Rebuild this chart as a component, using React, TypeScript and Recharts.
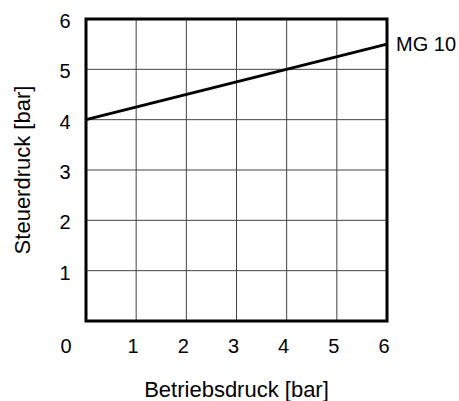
import React from 'react';
import { LineChart, Line, XAxis, YAxis, CartesianGrid, ReferenceArea } from 'recharts';

// Betriebsdruck [bar] -> Steuerdruck [bar]
const betriebsdruck = [0, 6];
const steuerdruck = [4, 5.5];
const seriesName = 'MG 10';
const xTicks = [0, 1, 2, 3, 4, 5, 6];
const yTicks = [1, 2, 3, 4, 5, 6];

const data = betriebsdruck.map((x, i) => ({ x, y: steuerdruck[i] }));

const FONT = '"Liberation Sans", Arial, Helvetica, sans-serif';

const XTick = (props: any) => {
    const { x, y, payload } = props;
    const shift = payload.value === 0 ? -20 : -3;
    return (
        <text x={x + shift} y={y + 17} textAnchor="middle" dominantBaseline="central" fontSize={20} fontFamily={FONT} fill="#000">
            {payload.value}
        </text>
    );
};

const YTick = (props: any) => {
    const { y, payload } = props;
    return (
        <text x={65} y={y + 2} textAnchor="middle" dominantBaseline="central" fontSize={20} fontFamily={FONT} fill="#000">
            {payload.value}
        </text>
    );
};

const YLabel = (props: any) => {
    const { viewBox } = props;
    const cx = viewBox.x + 22;
    const cy = viewBox.y + viewBox.height / 2;
    return (
        <text x={cx} y={cy} transform={`rotate(-90 ${cx} ${cy})`} textAnchor="middle" dominantBaseline="central" fontSize={22} fontFamily={FONT} fill="#000">
            Steuerdruck [bar]
        </text>
    );
};

const EndLabel = (props: any) => {
    const { x, y, index } = props;
    if (index !== data.length - 1) return null;
    return (
        <text x={x + 9} y={y} dominantBaseline="central" fontSize={20} fontFamily={FONT} fill="#000">
            {seriesName}
        </text>
    );
};

const App = () => {
    return (
        <div style={{ position: 'fixed', left: 0, top: 0, width: 459, height: 401, background: '#fff' }}>
            <LineChart width={459} height={401} data={data} margin={{ top: 19, right: 72, left: 0, bottom: 0 }}>
                <CartesianGrid stroke="#444" strokeWidth={1} />
                <XAxis
                    dataKey="x"
                    type="number"
                    domain={[0, 6]}
                    ticks={xTicks}
                    axisLine={false}
                    tickLine={false}
                    height={80}
                    tick={<XTick />}
                    label={{ value: 'Betriebsdruck [bar]', position: 'insideBottom', offset: 4, fontSize: 22, fontFamily: FONT, fill: '#000' }}
                />
                <YAxis
                    type="number"
                    domain={[0, 6]}
                    ticks={yTicks}
                    axisLine={false}
                    tickLine={false}
                    width={86}
                    tick={<YTick />}
                    label={<YLabel />}
                />
                <ReferenceArea x1={0} x2={6} y1={0} y2={6} fill="none" fillOpacity={0} stroke="#000" strokeWidth={3} />
                <Line
                    type="linear"
                    dataKey="y"
                    stroke="#000"
                    strokeWidth={3}
                    dot={false}
                    isAnimationActive={false}
                    label={<EndLabel />}
                />
            </LineChart>
        </div>
    );
};

export default App;
